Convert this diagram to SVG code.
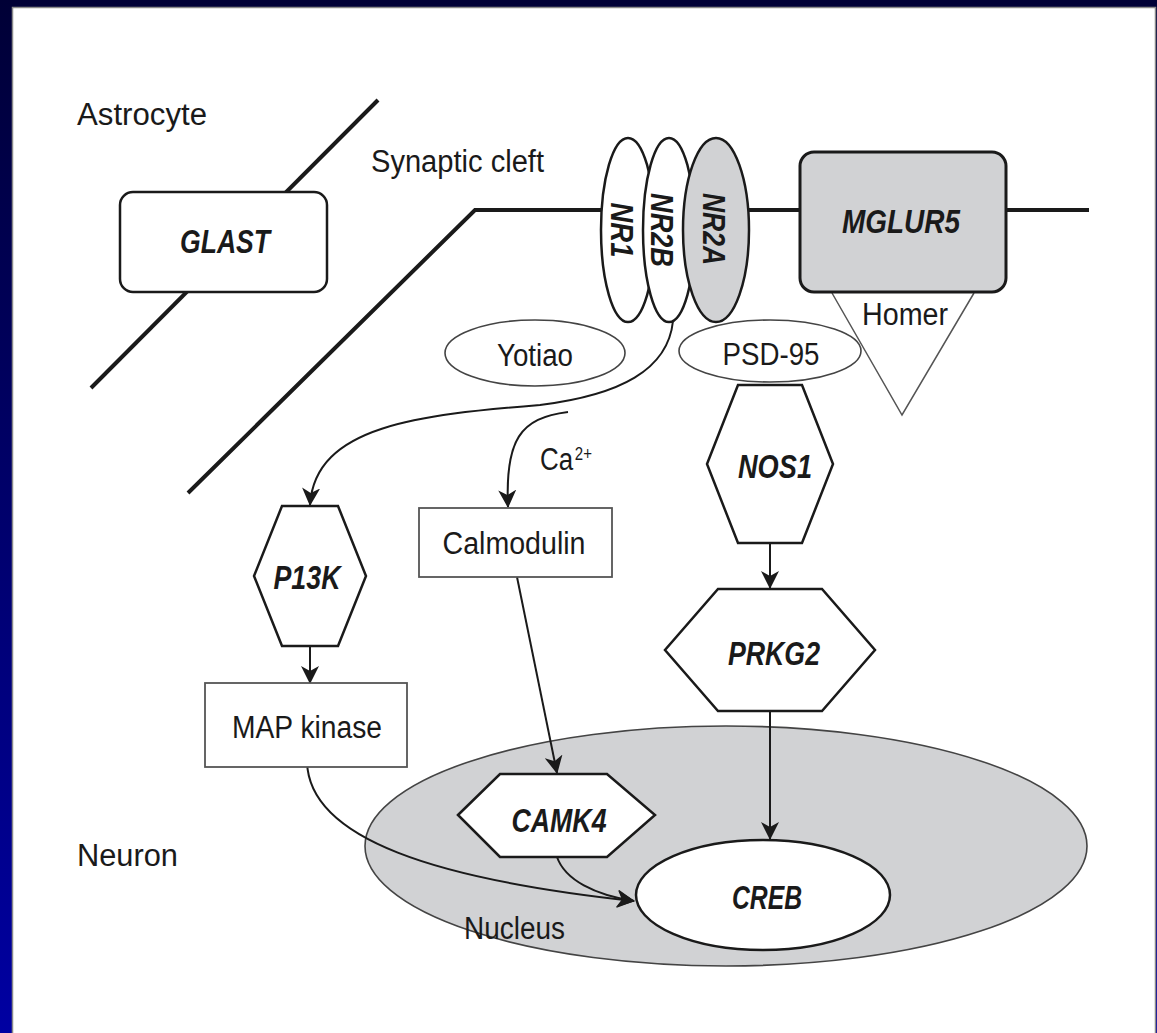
<svg xmlns="http://www.w3.org/2000/svg" width="1157" height="1033" viewBox="0 0 1157 1033">
<defs>
<linearGradient id="bg" x1="0" y1="0" x2="0" y2="1">
<stop offset="0" stop-color="#000036"/>
<stop offset="1" stop-color="#0000a2"/>
</linearGradient>
<marker id="arr" viewBox="0 0 18 18" refX="17" refY="9" markerWidth="18" markerHeight="18" orient="auto" markerUnits="userSpaceOnUse">
<path d="M0,0 L18,9 L0,18 L5,9 Z" fill="#1a1a1a"/>
</marker>
<style>
.lbl{font-family:"Liberation Sans",Arial,sans-serif;font-size:31px;fill:#1a1a1a}
.gene{font-family:"Liberation Sans",Arial,sans-serif;font-size:33px;font-weight:bold;font-style:italic;fill:#1a1a1a}
.nr{font-size:31px}
.mem{stroke:#1a1a1a;stroke-width:4;fill:none}
.thick{stroke:#1a1a1a;stroke-width:2.5}
.thin{stroke:#444;stroke-width:1.6}
.conn{stroke:#1a1a1a;stroke-width:2;fill:none;marker-end:url(#arr)}
.gray{fill:#d1d2d4}
</style>
</defs>
<rect x="0" y="0" width="1157" height="1033" fill="url(#bg)"/>
<rect x="12.5" y="7.5" width="1143" height="1030" fill="#fff" stroke="#8a8a8a" stroke-width="1.5"/>

<g id="membranes">
<line class="mem" x1="91" y1="388" x2="378" y2="100"/>
<polyline class="mem" points="188,493 475,210 1089,210"/>
</g>

<g id="labels">
<text class="lbl" x="77" y="125" textLength="130" lengthAdjust="spacingAndGlyphs">Astrocyte</text>
<text class="lbl" x="371" y="172" textLength="173" lengthAdjust="spacingAndGlyphs">Synaptic cleft</text>
<text class="lbl" x="77" y="866" textLength="101" lengthAdjust="spacingAndGlyphs">Neuron</text>
<text class="lbl" x="540" y="470" textLength="52" lengthAdjust="spacingAndGlyphs">Ca<tspan dx="2" dy="-10" style="font-size:18px">2+</tspan></text>
</g>

<g id="nucleus">
<ellipse cx="726" cy="846" rx="361" ry="120" class="gray thin"/>
<text class="lbl" x="464" y="939" textLength="101" lengthAdjust="spacingAndGlyphs">Nucleus</text>
</g>

<g id="homer">
<polyline points="832,293 902,415 974,293" fill="none" stroke="#555" stroke-width="1.5"/>
<text class="lbl" x="862" y="325" textLength="86" lengthAdjust="spacingAndGlyphs">Homer</text>
</g>

<g id="connectors">
<path class="conn" d="M673,321 C668,370 620,395 540,405 C420,415 315,425 310,505"/>
<path class="conn" d="M568,412 C520,418 505,440 508,507"/>
<line class="conn" x1="310" y1="646" x2="310" y2="683"/>
<line class="conn" x1="517" y1="577" x2="557" y2="773"/>
<line class="conn" x1="770" y1="543" x2="770" y2="588"/>
<line class="conn" x1="770" y1="711" x2="770" y2="839"/>
<path class="conn" d="M307,760 C307,840 440,880 634,901"/>
<path class="conn" d="M557,857 C565,880 595,895 634,901"/>
</g>

<g id="glast">
<rect x="120" y="192" width="207" height="100" rx="13" fill="#fff" class="thick"/>
<text class="gene" x="225" y="253" text-anchor="middle" textLength="90" lengthAdjust="spacingAndGlyphs">GLAST</text>
</g>

<g id="nr1">
<ellipse cx="628" cy="230" rx="27" ry="92" fill="#fff" class="thick"/>
<text class="gene nr" transform="translate(611,230) rotate(90)" text-anchor="middle" textLength="55" lengthAdjust="spacingAndGlyphs">NR1</text>
</g>
<g id="nr2b">
<ellipse cx="669" cy="230" rx="26" ry="92" fill="#fff" class="thick"/>
<text class="gene nr" transform="translate(651,230) rotate(90)" text-anchor="middle" textLength="74" lengthAdjust="spacingAndGlyphs">NR2B</text>
</g>
<g id="nr2a">
<ellipse cx="716" cy="230" rx="33" ry="92" class="gray thick"/>
<text class="gene nr" transform="translate(703,229) rotate(90)" text-anchor="middle" textLength="72" lengthAdjust="spacingAndGlyphs">NR2A</text>
</g>

<g id="mglur5">
<rect x="800" y="152" width="206" height="140" rx="14" class="gray" stroke="#1a1a1a" stroke-width="3"/>
<text class="gene" x="901" y="233" text-anchor="middle" textLength="118" lengthAdjust="spacingAndGlyphs">MGLUR5</text>
</g>

<g id="yotiao">
<ellipse cx="535" cy="353" rx="90" ry="33" fill="#fff" class="thin"/>
<text class="lbl" x="535" y="366" text-anchor="middle" textLength="76" lengthAdjust="spacingAndGlyphs">Yotiao</text>
</g>

<g id="psd95">
<ellipse cx="770" cy="351" rx="91" ry="31" fill="#fff" class="thin"/>
<text class="lbl" x="771" y="365" text-anchor="middle" textLength="97" lengthAdjust="spacingAndGlyphs">PSD-95</text>
</g>

<g id="p13k">
<polygon points="282,506 338,506 366,576 338,646 282,646 254,576" fill="#fff" class="thick"/>
<text class="gene" x="307" y="589" text-anchor="middle" textLength="67" lengthAdjust="spacingAndGlyphs">P13K</text>
</g>

<g id="calmodulin">
<rect x="419" y="508" width="193" height="69" fill="#fff" stroke="#555" stroke-width="1.8"/>
<text class="lbl" x="514" y="554" text-anchor="middle" textLength="143" lengthAdjust="spacingAndGlyphs">Calmodulin</text>
</g>

<g id="mapkinase">
<rect x="205" y="683" width="202" height="84" fill="#fff" stroke="#555" stroke-width="1.8"/>
<text class="lbl" x="307" y="738" text-anchor="middle" textLength="150" lengthAdjust="spacingAndGlyphs">MAP kinase</text>
</g>

<g id="nos1">
<polygon points="738,385 802,385 833,464 802,543 738,543 707,464" fill="#fff" class="thick"/>
<text class="gene" x="775" y="478" text-anchor="middle" textLength="74" lengthAdjust="spacingAndGlyphs">NOS1</text>
</g>

<g id="prkg2">
<polygon points="718,589 822,589 875,650 822,711 718,711 665,650" fill="#fff" class="thick"/>
<text class="gene" x="774" y="665" text-anchor="middle" textLength="92" lengthAdjust="spacingAndGlyphs">PRKG2</text>
</g>

<g id="camk4">
<polygon points="458,815 500,774 607,774 655,815 607,857 500,857" fill="#fff" class="thick"/>
<text class="gene" x="559" y="832" text-anchor="middle" textLength="95" lengthAdjust="spacingAndGlyphs">CAMK4</text>
</g>

<g id="creb">
<ellipse cx="763" cy="895" rx="127" ry="55" fill="#fff" class="thick"/>
<text class="gene" x="767" y="909" text-anchor="middle" textLength="70" lengthAdjust="spacingAndGlyphs">CREB</text>
</g>
</svg>
